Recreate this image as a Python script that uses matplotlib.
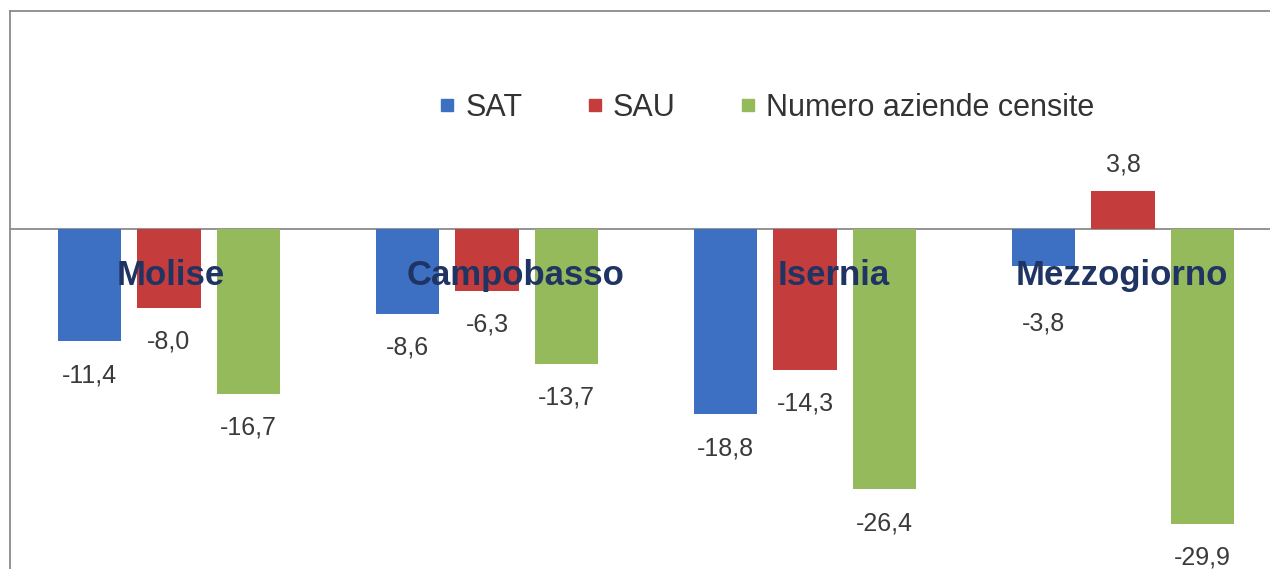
import matplotlib.pyplot as plt
from matplotlib.lines import Line2D
import numpy as np

plt.rcParams['font.family'] = ['Liberation Sans', 'DejaVu Sans']

# variazione % 2000-2010
territori = ["Molise", "Campobasso", "Isernia", "Mezzogiorno"]
serie = ["SAT", "SAU", "Numero aziende censite"]
sat = [-11.4, -8.6, -18.8, -3.8]
sau = [-8.0, -6.3, -14.3, 3.8]
aziende = [-16.7, -13.7, -26.4, -29.9]

colori = ["#3d6fc2", "#c43c3c", "#95ba5b"]
navy = "#1f3462"
grigio = "#8a8a8a"

fig = plt.figure(figsize=(12.7, 5.69), dpi=100)
ax = fig.add_axes([10 / 1270, 0, 1272 / 1270, 558 / 569])

x = np.arange(len(territori))
larghezza = 0.2
passo = 0.25

for i, (valori, colore) in enumerate(zip([sat, sau, aziende], colori)):
    pos = x + (i - 1) * passo
    ax.bar(pos, valori, width=larghezza, color=colore, zorder=2)
    for j, (xp, v) in enumerate(zip(pos, valori)):
        testo = f"{v:.1f}".replace(".", ",")
        if v >= 0:
            off = 27
        else:
            off = -34
        # etichetta spostata sotto il nome del territorio
        if territori[j] == "Mezzogiorno" and i == 0:
            off = -57
        ax.annotate(testo, (xp, v), xytext=(0, off * 0.72), textcoords="offset points",
                    ha="center", va="center", fontsize=18, color="#3a3a3a")

# nomi dei territori, spostati a mano
spost = [0.005, 0.09, 0.09, -0.005]
for xi, nome, d in zip(x, territori, spost):
    ax.text(xi + d, -4.7, nome, ha="center", va="center", fontsize=25,
            fontweight="bold", color=navy, zorder=3)

ax.axhline(0, color=grigio, lw=1.3, zorder=1)

ax.set_xlim(-0.5, 3.5)
ax.set_ylim(-34.5, 22.1)
ax.set_xticks([])
ax.set_yticks([])
for lato in ["bottom", "right"]:
    ax.spines[lato].set_visible(False)
for lato in ["top", "left"]:
    ax.spines[lato].set_color(grigio)
    ax.spines[lato].set_linewidth(1.3)

maniglie = [Line2D([], [], marker="s", linestyle="none", markersize=8.5,
                   markerfacecolor=c, markeredgecolor=c) for c in colori]
fig.legend(maniglie, serie, loc="center", bbox_to_anchor=(767 / 1270, 1 - 108 / 569),
           ncol=3, frameon=False, fontsize=22, handlelength=0.5, handletextpad=0.35,
           columnspacing=2.1, labelcolor="#333333")

fig.savefig("out.png", dpi=100)
